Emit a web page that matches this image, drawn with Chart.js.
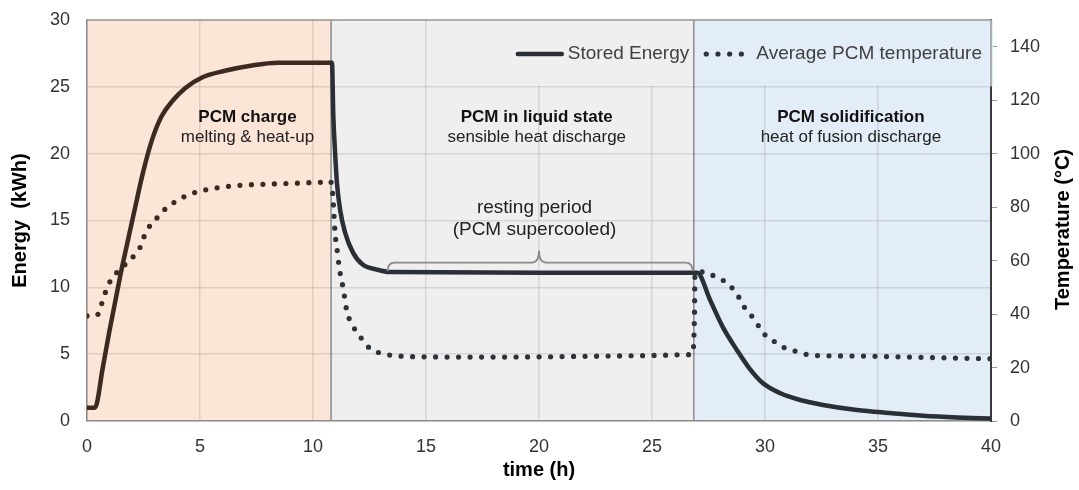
<!DOCTYPE html>
<html>
<head>
<meta charset="utf-8">
<script src="https://cdn.jsdelivr.net/npm/chart.js@4/dist/chart.umd.min.js"></script>
<style>
  body { margin: 0; background: #fff; }
</style>
</head>
<body>
<canvas id="chart" width="1079" height="490"></canvas>
<script>
// time (h) / stored energy (kWh)
const energyTime = [0, 0.35, 0.7, 1.0, 1.5, 1.77, 2.12, 2.48, 2.88, 3.3, 3.76, 4.34, 5.09, 6.1, 7.3, 8.45, 10.84,
  10.9, 10.97, 11.06, 11.2, 11.42, 11.77, 12.2, 12.83, 13.4, 20, 26.85,
  27.0, 27.57, 28.14, 28.76, 29.3, 29.9, 30.66, 31.55, 32.57, 34.07, 35.5, 37, 38.5, 40];
const energyKWh = [1, 1, 4.0, 6.8, 11.1, 13.2, 15.9, 18.6, 21.05, 22.8, 23.9, 24.9, 25.7, 26.2, 26.6, 26.8, 26.8,
  22.8, 20.3, 17.8, 15.8, 14.1, 12.6, 11.7, 11.33, 11.15, 11.1, 11.1,
  11.1, 9.05, 7.0, 5.3, 3.96, 2.84, 2.09, 1.57, 1.2, 0.82, 0.6, 0.4, 0.27, 0.18];

// time (h) / average PCM temperature (°C)
const tempTime = [0, 0.44, 0.6, 0.75, 0.92, 1.16, 1.5, 1.8, 2.1, 2.35, 2.5, 2.7, 3.1, 3.5, 3.9, 4.6, 5.6, 6.5, 8, 9.4, 10.4, 10.8,
  10.84, 10.88, 10.93, 10.97, 11.02, 11.1, 11.15, 11.24, 11.33, 11.5, 11.7, 12.1, 12.5, 13.2, 14, 15, 17, 20, 23, 25, 26.5, 26.8,
  26.88, 26.9, 27.04, 27.52, 27.96, 28.3, 28.6, 28.85, 29.07, 29.4, 29.65, 29.87, 30.13, 30.5, 30.84, 31.24, 31.7, 32.17, 34, 36, 38, 40];
const tempC = [39.3, 39.5, 42.6, 46.5, 50.5, 54, 57, 59.5, 62, 65, 68.5, 72, 76, 79.6, 82, 85, 87, 88, 88.6, 89, 89.3, 89.3,
  88.5, 84, 77, 71, 66.7, 62, 58, 53.6, 49.9, 41, 36.6, 31.4, 27.3, 25, 24.2, 24, 23.9, 24, 24.3, 24.5, 24.8, 25.2,
  40, 54.5, 55.9, 55.1, 53.3, 51.8, 49.2, 46.2, 42.8, 39.4, 36.4, 33.5, 31.2, 29.3, 27.5, 26.4, 25.2, 24.5, 24.3, 24, 23.6, 23.3];

const xTicks = [0, 5, 10, 15, 20, 25, 30, 35, 40];
const energyTicks = [0, 5, 10, 15, 20, 25, 30];
const tempTicks = [0, 20, 40, 60, 80, 100, 120, 140];

// phase boundaries (h) and their labels
const phaseEdges = [0, 10.8, 26.85, 40];
const phaseTitles = ['PCM charge', 'PCM in liquid state', 'PCM solidification'];
const phaseNotes = ['melting & heat-up', 'sensible heat discharge', 'heat of fusion discharge'];
const restLabel = ['resting period', '(PCM supercooled)'];

const FONT = '"Liberation Sans", Arial, sans-serif';
Chart.defaults.font.family = FONT;

function fillPhases(chart, left, top, right, bottom) {
  const { ctx, scales: { x } } = chart;
  const colors = ['#fbe5d6', '#efefef', '#e3edf7'];
  ctx.save();
  ctx.beginPath();
  ctx.rect(left, top, right - left, bottom - top);
  ctx.clip();
  for (let i = 0; i < 3; i++) {
    const x0 = x.getPixelForValue(phaseEdges[i]);
    const x1 = x.getPixelForValue(phaseEdges[i + 1]);
    ctx.fillStyle = colors[i];
    ctx.fillRect(x0, chart.chartArea.top, x1 - x0 + 2, chart.chartArea.bottom - chart.chartArea.top);
  }
  ctx.strokeStyle = '#8a8a8a';
  ctx.lineWidth = 1.5;
  [phaseEdges[1], phaseEdges[2]].forEach(t => {
    const px = x.getPixelForValue(t);
    ctx.beginPath();
    ctx.moveTo(px, chart.chartArea.top);
    ctx.lineTo(px, chart.chartArea.bottom);
    ctx.stroke();
  });
  ctx.restore();
}

const phasePlugin = {
  id: 'phases',
  beforeDraw(chart) {
    const a = chart.chartArea;
    fillPhases(chart, a.left, a.top, a.right, a.bottom);
  },
  beforeDatasetsDraw(chart) {
    // legend box covers the grid in the upper right corner
    const { ctx, chartArea: a, scales: { x, y } } = chart;
    const boxLeft = x.getPixelForValue(15.2);
    const boxBottom = y.getPixelForValue(25) - 1;
    fillPhases(chart, boxLeft, a.top, a.right + 2, boxBottom);
    ctx.save();
    ctx.strokeStyle = '#999';
    ctx.lineWidth = 1.5;
    ctx.beginPath();
    ctx.moveTo(a.left, a.top);
    ctx.lineTo(a.right, a.top);
    ctx.lineTo(a.right, boxBottom + 1);
    ctx.stroke();
    ctx.restore();
  },
  afterDatasetsDraw(chart) {
    const { ctx, chartArea: a, scales: { x, y } } = chart;
    ctx.save();
    ctx.textAlign = 'center';
    ctx.textBaseline = 'middle';

    // phase labels
    const centers = [7.1, 19.9, 33.8];
    for (let i = 0; i < 3; i++) {
      const px = x.getPixelForValue(centers[i]);
      ctx.fillStyle = '#111';
      ctx.font = 'bold 17px ' + FONT;
      ctx.fillText(phaseTitles[i], px, y.getPixelForValue(22.7));
      ctx.fillStyle = '#222';
      ctx.font = '17px ' + FONT;
      ctx.fillText(phaseNotes[i], px, y.getPixelForValue(21.2));
    }

    // resting period
    ctx.font = '19px ' + FONT;
    ctx.fillStyle = '#222';
    const rx = x.getPixelForValue(19.8);
    ctx.fillText(restLabel[0], rx, y.getPixelForValue(15.95));
    ctx.fillText(restLabel[1], rx, y.getPixelForValue(14.3));

    // curly brace over the resting period
    const xl = x.getPixelForValue(13.3), xr = x.getPixelForValue(26.8), xm = x.getPixelForValue(20);
    const yTip = y.getPixelForValue(11.2), yBase = y.getPixelForValue(11.85), yPeak = y.getPixelForValue(12.75);
    const r = 7;
    ctx.strokeStyle = '#8a8a8a';
    ctx.lineWidth = 1.8;
    ctx.beginPath();
    ctx.moveTo(xl, yTip);
    ctx.quadraticCurveTo(xl, yBase, xl + r, yBase);
    ctx.lineTo(xm - r, yBase);
    ctx.quadraticCurveTo(xm, yBase, xm, yPeak);
    ctx.quadraticCurveTo(xm, yBase, xm + r, yBase);
    ctx.lineTo(xr - r, yBase);
    ctx.quadraticCurveTo(xr, yBase, xr, yTip);
    ctx.stroke();

    // legend
    const [eSet, tSet] = chart.data.datasets;
    const ly = a.top + 34;
    ctx.font = '19px ' + FONT;
    ctx.textAlign = 'left';
    ctx.fillStyle = '#404040';
    const w2 = ctx.measureText(tSet.label).width;
    const t2x = a.right - 9 - w2;
    ctx.fillText(tSet.label, t2x, ly);
    ctx.fillStyle = '#2e3338';
    for (let i = 0; i < 4; i++) {
      ctx.beginPath();
      ctx.arc(t2x - 15 - i * 11.7, ly, 2.6, 0, Math.PI * 2);
      ctx.fill();
    }
    const w1 = ctx.measureText(eSet.label).width;
    const t1end = t2x - 15 - 3 * 11.7 - 17;
    const t1x = t1end - w1;
    ctx.fillStyle = '#404040';
    ctx.fillText(eSet.label, t1x, ly);
    ctx.strokeStyle = '#2a2f35';
    ctx.lineWidth = 4.5;
    ctx.lineCap = 'round';
    ctx.beginPath();
    ctx.moveTo(t1x - 50, ly);
    ctx.lineTo(t1x - 6, ly);
    ctx.stroke();
    ctx.restore();
  },
  afterDraw(chart) {
    const { ctx, chartArea: a } = chart;
    ctx.save();
    ctx.translate(chart.width - 16, (a.top + a.bottom) / 2 + 9);
    ctx.rotate(-Math.PI / 2);
    ctx.font = 'bold 20px ' + FONT;
    ctx.fillStyle = '#000';
    ctx.textAlign = 'center';
    ctx.textBaseline = 'middle';
    ctx.fillText('Temperature (°C)', 0, 0);
    ctx.restore();
  }
};

const chargeColor = '#3b2a20';
const darkColor = '#2a2f35';
const inCharge = c => c.p0.parsed.x < phaseEdges[1];

// fixed axis sizes; drop the label padding that would push the plot down
const fixWidth = w => s => { s.width = w; s.paddingTop = 0; s.paddingBottom = 0; };

new Chart(document.getElementById('chart'), {
  type: 'line',
  data: {
    datasets: [
      {
        label: 'Stored Energy',
        data: energyTime.map((t, i) => ({ x: t, y: energyKWh[i] })),
        yAxisID: 'y',
        borderColor: darkColor,
        borderWidth: 4.5,
        pointRadius: 0,
        cubicInterpolationMode: 'monotone',
        segment: { borderColor: c => inCharge(c) ? chargeColor : darkColor },
      },
      {
        label: 'Average PCM temperature',
        data: tempTime.map((t, i) => ({ x: t, y: tempC[i] })),
        yAxisID: 'y2',
        borderColor: '#2e3338',
        borderWidth: 5.2,
        borderDash: [0, 11.5],
        borderCapStyle: 'round',
        pointRadius: 0,
        cubicInterpolationMode: 'monotone',
        segment: { borderColor: c => inCharge(c) ? chargeColor : '#2e3338' },
      },
    ],
  },
  options: {
    responsive: false,
    animation: false,
    devicePixelRatio: 1,
    layout: { padding: { top: 20, left: 0, right: 0, bottom: 0 } },
    plugins: { legend: { display: false }, tooltip: { enabled: false } },
    scales: {
      x: {
        type: 'linear', min: 0, max: 40,
        afterBuildTicks: s => { s.ticks = xTicks.map(v => ({ value: v })); },
        afterFit: s => { s.height = 69; },
        grid: { color: 'rgba(0,0,0,0.1)', lineWidth: 1.5, drawTicks: false },
        border: { color: '#8c8c8c', width: 1.5 },
        ticks: { padding: 15, color: '#333', font: { size: 18 } },
        title: { display: true, text: 'time (h)', color: '#000', font: { size: 20, weight: 'bold' }, padding: { top: 0, bottom: 8 } },
      },
      y: {
        position: 'left', min: 0, max: 30,
        afterBuildTicks: s => { s.ticks = energyTicks.map(v => ({ value: v })); },
        afterFit: fixWidth(87),
        grid: { color: 'rgba(0,0,0,0.1)', lineWidth: 1.5, drawTicks: false },
        border: { color: '#8c8c8c', width: 1.5 },
        ticks: { padding: 17, color: '#333', font: { size: 18 } },
        title: { display: true, text: 'Energy  (kWh)', color: '#000', font: { size: 20, weight: 'bold' }, padding: { top: 8, bottom: 0 } },
      },
      y2: {
        position: 'right', min: 0, max: 150,
        afterBuildTicks: s => { s.ticks = tempTicks.map(v => ({ value: v })); },
        afterFit: fixWidth(88),
        grid: { drawOnChartArea: false, drawTicks: true, tickLength: 6, color: '#999', lineWidth: 1 },
        border: { color: '#3a3a3a', width: 2 },
        ticks: { padding: 13, color: '#333', font: { size: 18 } },
      },
    },
  },
  plugins: [phasePlugin],
});
</script>
</body>
</html>
